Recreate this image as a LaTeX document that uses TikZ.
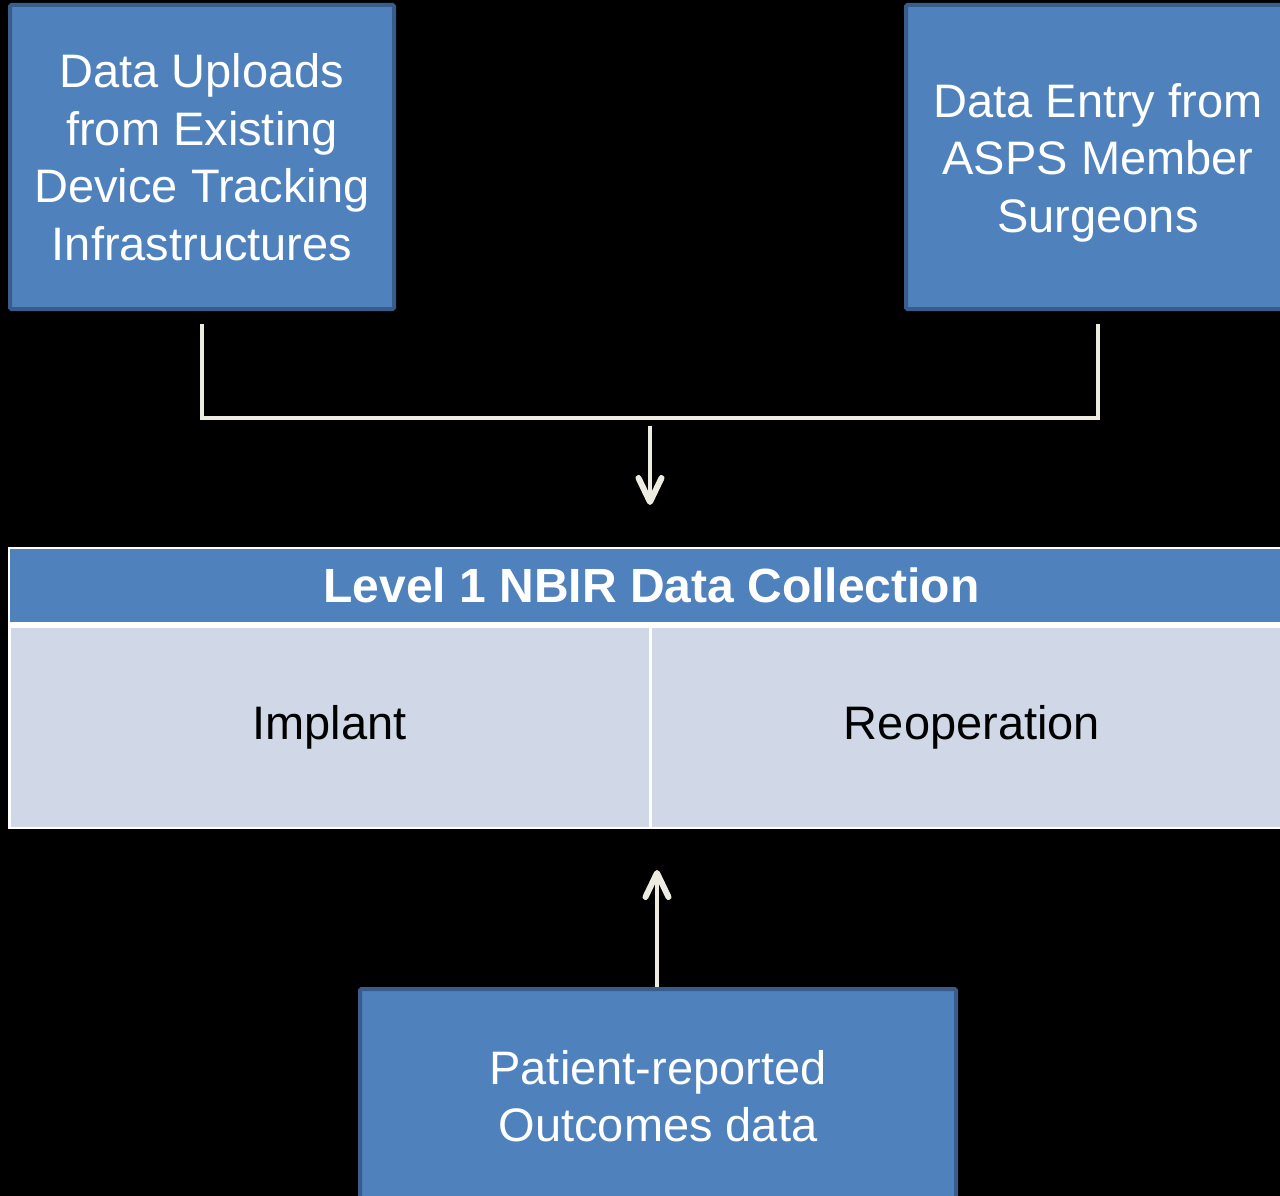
\documentclass[tikz,border=0pt]{standalone}
\usepackage{fontspec}
\setmainfont{Liberation Sans}
\usetikzlibrary{calc}

\definecolor{boxblue}{HTML}{4F81BD}
\definecolor{boxedge}{HTML}{385D8A}
\definecolor{cellfill}{HTML}{D0D8E8}
\definecolor{linkcol}{HTML}{EEECE1}

\tikzset{
  srcbox/.style={draw=boxedge, line width=4pt, fill=boxblue, rounded corners=1.5pt,
    text=white, align=center, inner sep=0pt,
    font=\fontsize{47}{57.5}\selectfont},
  headcell/.style={fill=boxblue, text=white, inner sep=0pt,
    font=\bfseries\fontsize{48}{58}\selectfont},
  bodycell/.style={fill=cellfill, text=black, inner sep=0pt,
    font=\fontsize{47}{57.5}\selectfont},
  bracket/.style={color=linkcol, line width=4.8pt},
  feed/.style={color=linkcol, line width=3.4pt},
  chevron/.style={color=linkcol, line width=6pt, line cap=round, line join=round}
}

\begin{document}
\begin{tikzpicture}[x=1pt, y=-1pt]
  \fill[black] (0,0) rectangle (1280,1196);
  \useasboundingbox (0,0) rectangle (1280,1196);

  % source boxes
  \node[srcbox, minimum width=384pt, minimum height=304pt] (upload) at (202,157)
    {Data Uploads\\from Existing\\Device Tracking\\Infrastructures};
  \node[srcbox, minimum width=384pt, minimum height=304pt] (entry) at (1098,157)
    {\\[-12pt]Data Entry from\\ASPS Member\\Surgeons};
  \node[srcbox, minimum width=596pt, minimum height=214pt] (pro) at (658,1096)
    {Patient-reported\\Outcomes data};

  % collection table
  \fill[white] (8,547) rectangle (1294,829);
  \node[headcell, minimum width=1283pt, minimum height=73pt] (hdr) at (651.5,585.5)
    {Level 1 NBIR Data Collection};
  \node[bodycell, minimum width=638pt, minimum height=198.5pt] (implant) at (329.5,727.25)
    {Implant};
  \node[bodycell, minimum width=640pt, minimum height=198.5pt] (reop) at (972,727.25)
    {Reoperation};

  % bracket joining the two source boxes
  \coordinate (upfoot) at ($(upload.south)+(0,13)$);
  \coordinate (enfoot) at ($(entry.south)+(0,13)$);
  \coordinate (join) at (650,418);
  \draw[bracket] (upfoot) |- (join) -| (enfoot);

  % arrow down into the collection table
  \coordinate (dropstart) at (650,426);
  \coordinate (droptip) at (650,502);
  \draw[feed] (dropstart) -- (droptip);
  \draw[chevron] ($(droptip)+(-11.5,-24)$) -- (droptip) -- ($(droptip)+(11.5,-24)$);

  % arrow up from the outcomes box
  \coordinate (risetip) at (657,873);
  \draw[feed] (pro.north -| risetip) -- (risetip);
  \draw[chevron] ($(risetip)+(-11.5,24)$) -- (risetip) -- ($(risetip)+(11.5,24)$);
\end{tikzpicture}
\end{document}
